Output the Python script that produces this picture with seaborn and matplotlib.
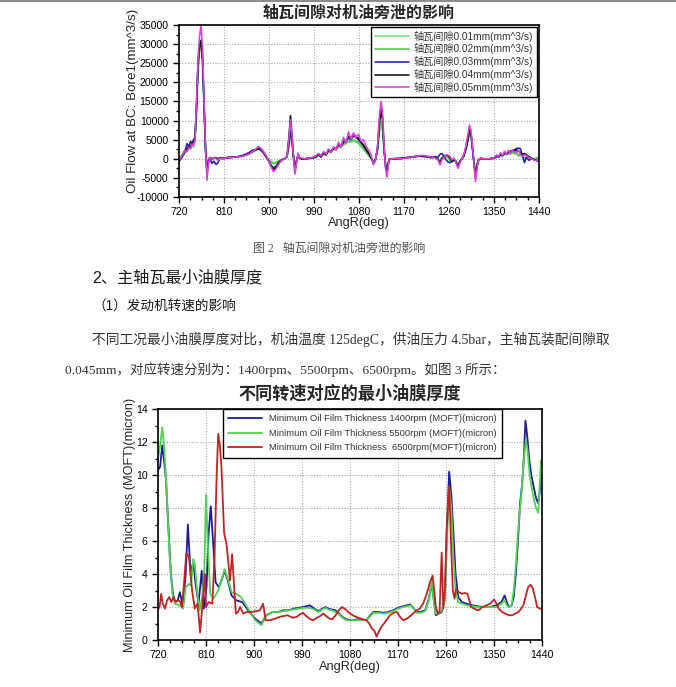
import matplotlib
matplotlib.use("Agg")
import matplotlib.pyplot as plt
from matplotlib.ticker import MultipleLocator
from matplotlib.lines import Line2D
import numpy as np
import seaborn as sns

# ---- figure 2 data: oil flow at BC: Bore1, values in 1000 mm^3/s ----
ang_deg = [720, 724, 728, 732, 736, 740, 743, 746, 749, 752,
           755, 758, 761, 764, 767, 770, 773, 776, 779, 782,
           786, 790, 794, 798, 802, 808, 815, 825, 835, 845,
           855, 862, 868, 874, 879, 884, 889, 894, 899, 904,
           909, 914, 919, 925, 931, 936, 940, 943, 946, 949,
           952, 955, 958, 961, 965, 972, 980, 988, 994, 999,
           1004, 1009, 1014, 1019, 1024, 1029, 1034, 1039, 1044, 1049,
           1054, 1059, 1064, 1069, 1074, 1079, 1084, 1089, 1094, 1099,
           1104, 1109, 1113, 1117, 1121, 1124, 1127, 1130, 1133, 1136,
           1140, 1146, 1155, 1165, 1175, 1185, 1195, 1205, 1215, 1225,
           1232, 1238, 1242, 1246, 1250, 1254, 1258, 1262, 1266, 1270,
           1274, 1278, 1282, 1286, 1290, 1294, 1298, 1301, 1304, 1307,
           1310, 1313, 1316, 1319, 1323, 1330, 1340, 1350, 1355, 1359,
           1363, 1367, 1371, 1375, 1379, 1383, 1387, 1391, 1395, 1399,
           1403, 1407, 1411, 1415, 1420, 1425, 1430, 1435, 1440]

flow_001_k = [-0.4, 0.8, 1.6, 2.4, 2.8, 3.0, 2.5, 3.4, 3.0, 4.6,
              12, 23, 28.5, 29.0, 25.5, 13.5, 2, -2.5, 0.2, 0.4,
              0.2, 0.2, 0.3, 0.1, 0.3, 0.2, 0.3, 0.4, 0.5, 0.6,
              0.9, 1.3, 1.8, 2.2, 2.5, 2.2, 1.5, 0.6, 0.0, -0.6,
              -1.0, -0.9, -0.5, -0.2, 0.0, 0.4, 3.2, 5.6, 4.0, 0.6,
              -2.0, -0.4, 0.6, 0.2, 0.0, 0.0, 0.1, 0.2, 0.4, 0.8,
              0.6, 1.2, 1.0, 1.8, 1.6, 2.4, 2.2, 3.0, 2.9, 3.6,
              3.9, 4.4, 4.3, 4.6, 4.4, 4.0, 3.2, 2.5, 1.6, 0.8,
              0.0, -1.0, -0.3, 2.0, 7.0, 9.0, 7.5, 2.2, -1.0, -2.8,
              -0.2, 0.0, 0.0, 0.1, 0.3, 0.4, 0.6, 0.8, 0.6, 0.3,
              0.2, 0.0, -0.3, 0.2, 0.4, 0.6, 0.3, -0.5, -0.9, -0.6,
              -0.8, -1.6, -0.5, 0.0, 0.8, 2.4, 4.6, 7.0, 6.0, 2.4,
              -0.6, -3.5, -1.5, -0.2, 0.1, 0.0, 0.0, 0.1, 0.5, 0.3,
              0.8, 0.6, 1.2, 1.0, 1.4, 1.2, 1.6, 1.3, 1.2, 0.6,
              1.0, 0.4, -0.2, 0.3, 0.2, 0.1, 0.0, 0.2, 0.4]

flow_002_k = [-0.5, 0.5, 1.4, 2.2, 3.0, 3.4, 3.0, 3.6, 3.8, 4.8,
              13, 23.5, 29, 29.5, 26, 14, 2.5, -3.0, 0.0, 0.3,
              0.1, 0.2, 0.2, 0.0, 0.3, 0.1, 0.3, 0.4, 0.5, 0.7,
              1.0, 1.4, 1.9, 2.3, 2.7, 2.4, 1.6, 0.6, -0.2, -0.9,
              -1.3, -1.1, -0.6, -0.2, 0.0, 0.5, 3.5, 6.0, 4.4, 0.6,
              -2.3, -0.4, 0.7, 0.2, 0.0, 0.0, 0.1, 0.2, 0.5, 1.0,
              0.7, 1.3, 1.1, 2.0, 1.8, 2.6, 2.4, 3.3, 3.1, 3.9,
              4.2, 4.7, 4.6, 5.0, 4.7, 4.3, 3.5, 2.8, 1.8, 1.0,
              0.1, -1.1, -0.3, 2.2, 7.8, 9.8, 8.2, 2.5, -1.2, -3.0,
              -0.2, 0.0, 0.0, 0.1, 0.3, 0.4, 0.6, 0.8, 0.6, 0.3,
              0.3, 0.0, -0.4, 0.2, 0.5, 0.7, 0.4, -0.4, -0.8, -0.5,
              -0.7, -1.8, -0.6, 0.0, 0.9, 2.6, 5.0, 7.4, 6.2, 2.6,
              -0.8, -3.8, -1.6, -0.3, 0.1, 0.0, 0.0, 0.1, 0.6, 0.4,
              1.0, 0.7, 1.3, 1.1, 1.5, 1.4, 1.8, 1.5, 1.6, 1.0,
              1.2, 0.6, 0.2, 0.4, 0.2, 0.1, -0.1, 0.1, 0.3]

flow_003_k = [-0.6, 0.0, 0.8, 1.8, 4.0, 3.2, 4.6, 3.8, 5.0, 5.6,
              13, 24, 29.5, 30.0, 26, 14, 2.5, -3.5, -0.5, 0.2,
              -1.2, -0.6, -1.5, -1.0, 0.2, 0.0, 0.2, 0.3, 0.5, 0.8,
              1.3, 1.8, 2.3, 2.4, 2.6, 2.3, 1.5, 0.5, -0.5, -1.6,
              -2.4, -1.9, -1.0, -0.3, 0.0, 0.5, 4.0, 7.2, 5.0, 0.8,
              -2.5, -0.5, 0.8, 0.3, 0.0, 0.0, 0.2, 0.3, 0.6, 1.3,
              0.8, 1.6, 1.3, 2.4, 2.0, 2.9, 2.6, 3.6, 3.3, 4.3,
              4.6, 5.4, 5.0, 6.0, 5.5, 5.0, 4.2, 3.4, 2.3, 1.4,
              0.3, -1.0, -0.2, 2.8, 10.5, 13.0, 11.0, 3.2, -1.5, -3.2,
              -0.2, 0.0, 0.0, 0.1, 0.3, 0.5, 0.7, 0.6, 0.5, 0.3,
              0.6, 0.4, 1.2, 1.4, 0.6, -0.2, -0.8, -1.0, -0.6, -0.3,
              -0.6, -2.0, -0.6, 0.0, 0.8, 2.6, 5.0, 7.2, 6.3, 2.8,
              -1.0, -4.5, -1.8, -0.3, 0.1, 0.0, 0.0, 0.1, 0.6, 0.4,
              1.0, 0.8, 1.4, 1.2, 1.6, 1.9, 2.2, 2.4, 2.7, 2.8,
              2.6, 0.8, -1.0, 0.4, -0.4, 0.0, -0.2, -0.4, -0.5]

flow_004_k = [-0.7, 0.2, 1.0, 2.0, 2.4, 3.2, 3.0, 4.2, 4.4, 5.4,
              14, 25, 30, 31.0, 27, 15, 3, -3.8, -1.0, 0.2,
              0.0, 0.2, 0.3, -0.2, 0.3, 0.1, 0.3, 0.5, 0.5, 0.7,
              1.1, 1.5, 2.0, 2.4, 2.9, 2.6, 1.8, 0.7, -0.5, -1.8,
              -2.8, -2.2, -1.2, -0.3, 0.0, 0.6, 6.0, 11.3, 6.0, 0.2,
              -3.5, -0.8, 1.0, 0.2, 0.0, 0.0, 0.1, 0.3, 0.5, 1.2,
              0.4, 1.5, 1.0, 2.2, 1.8, 2.8, 2.6, 3.8, 3.4, 4.6,
              4.8, 5.8, 5.4, 6.4, 5.9, 5.4, 4.4, 3.6, 2.6, 1.6,
              0.4, -1.2, -0.2, 2.5, 9.5, 12.0, 10.5, 3.0, -2.0, -3.5,
              -0.2, 0.0, 0.1, 0.1, 0.3, 0.4, 0.6, 0.8, 0.6, 0.4,
              0.4, -0.2, -1.0, 0.2, 0.6, 1.0, 0.8, 0.2, -0.6, -0.2,
              -0.8, -2.2, -0.8, 0.1, 1.0, 3.0, 5.5, 8.0, 6.8, 3.0,
              -1.2, -5.0, -2.0, -0.4, 0.1, 0.0, 0.0, 0.2, 0.8, 0.6,
              1.2, 1.0, 1.6, 1.4, 1.8, 2.0, 2.2, 2.0, 2.4, 2.0,
              1.6, 1.2, 1.4, 1.0, 0.6, 0.2, -0.2, -0.4, -0.7]

flow_005_k = [-0.6, 0.3, 1.2, 2.2, 1.8, 3.0, 2.6, 3.9, 3.4, 5.0,
              15, 26, 32, 34.8, 29, 16, 3, -5.6, -1.0, 0.4,
              -0.2, 0.3, 0.1, -0.4, 0.2, 0.0, 0.3, 0.4, 0.5, 0.6,
              1.0, 1.4, 2.0, 2.6, 3.2, 2.7, 1.9, 0.8, -0.6, -2.0,
              -3.4, -2.6, -1.5, -0.4, 0.0, 0.5, 5.5, 10.2, 6.5, 0.5,
              -4.0, -1.0, 1.5, 0.3, 0.2, 0.0, 0.2, 0.4, 0.8, 1.4,
              0.7, 1.9, 1.2, 2.6, 1.6, 3.2, 2.4, 4.3, 3.0, 5.6,
              4.2, 7.0, 5.2, 6.8, 5.5, 6.4, 4.6, 5.0, 3.2, 2.4,
              1.0, -1.5, -0.5, 3.0, 11.5, 15.0, 12.5, 4.0, -2.5, -4.8,
              -0.3, 0.0, 0.1, 0.0, 0.2, 0.4, 0.6, 0.9, 0.7, 0.5,
              0.3, -0.3, -1.6, -0.2, 0.4, 0.9, 1.0, 0.6, -0.3, 0.2,
              -1.0, -2.5, -1.0, 0.0, 1.2, 3.5, 6.5, 8.8, 7.5, 3.5,
              -1.5, -6.0, -2.5, -0.5, 0.2, 0.0, 0.0, 0.2, 1.0, 0.5,
              1.6, 0.8, 2.0, 1.2, 2.2, 1.4, 2.4, 1.6, 1.8, 2.2,
              1.2, 0.6, 1.0, 0.8, 0.3, 0.0, -0.3, -0.5, -0.6]

flow_labels = ["轴瓦间隙0.01mm(mm^3/s)", "轴瓦间隙0.02mm(mm^3/s)", "轴瓦间隙0.03mm(mm^3/s)",
               "轴瓦间隙0.04mm(mm^3/s)", "轴瓦间隙0.05mm(mm^3/s)"]
flow_colors = ["#7fd87f", "#4ccc4c", "#2222aa", "#111111", "#dd3fd8"]

# ---- figure 3 data: minimum oil film thickness (angle, micron) ----
moft_1400 = [(720, 10.3), (724, 10.5), (728, 11.8), (731, 11.0), (735, 9.7), (740, 6.5), (744, 4.1),
             (748, 2.8), (752, 2.3), (757, 2.4), (761, 2.9), (767, 2.0), (772, 4.1), (776, 7.0),
             (781, 4.1), (786, 4.7), (791, 3.3), (796, 2.2), (802, 4.2), (806, 1.9), (811, 3.2),
             (815, 6.5), (819, 8.1), (823, 6.1), (828, 3.5), (834, 3.2), (839, 3.6), (845, 4.2),
             (851, 3.6), (858, 2.7), (867, 2.4), (878, 2.3), (889, 1.8), (902, 1.3), (914, 1.0),
             (923, 1.5), (935, 1.7), (945, 1.7), (955, 1.8), (965, 1.8), (974, 1.9), (984, 1.95),
             (992, 2.0), (1005, 2.1), (1013, 1.9), (1021, 1.75), (1028, 1.9), (1034, 2.0), (1040, 1.9),
             (1046, 1.85), (1053, 1.8), (1061, 1.55), (1068, 1.35), (1074, 1.25), (1083, 1.2),
             (1093, 1.25), (1103, 1.25), (1111, 1.2), (1118, 1.5), (1124, 1.7), (1133, 1.7),
             (1143, 1.65), (1152, 1.7), (1161, 1.8), (1170, 1.95), (1180, 2.05), (1193, 2.15),
             (1200, 1.9), (1205, 1.7), (1213, 1.7), (1221, 1.8), (1228, 2.5), (1233, 3.4), (1237, 2.5),
             (1241, 1.5), (1247, 1.6), (1252, 1.7), (1258, 2.5), (1262, 7.0), (1266, 10.2), (1270, 8.8),
             (1274, 6.5), (1278, 4.0), (1283, 2.6), (1290, 2.3), (1299, 2.2), (1310, 2.1), (1318, 2.05),
             (1330, 2.0), (1342, 2.0), (1355, 2.1), (1364, 2.3), (1370, 2.7), (1374, 2.3), (1378, 2.0),
             (1383, 2.1), (1387, 2.6), (1391, 4.0), (1395, 6.0), (1399, 8.3), (1403, 9.5), (1406, 11.0),
             (1409, 13.3), (1412, 12.5), (1416, 11.0), (1420, 10.0), (1425, 9.2), (1429, 8.6),
             (1433, 8.3), (1436, 9.0), (1438, 10.0), (1440, 9.4)]

moft_5500 = [(720, 11.0), (724, 11.8), (728, 12.9), (732, 11.5), (737, 8.5), (742, 5.0), (747, 2.8),
             (752, 2.2), (760, 2.1), (767, 1.9), (772, 3.2), (778, 3.4), (782, 3.3), (786, 4.9),
             (789, 4.6), (794, 2.8), (798, 1.8), (803, 2.6), (807, 4.4), (810, 8.8), (814, 5.4),
             (818, 2.8), (824, 2.5), (833, 3.0), (845, 4.3), (852, 3.6), (858, 2.9), (867, 2.8),
             (876, 2.6), (889, 1.9), (902, 1.2), (914, 0.9), (923, 1.5), (935, 1.7), (945, 1.7),
             (955, 1.75), (965, 1.8), (974, 1.85), (984, 1.9), (992, 1.95), (1005, 1.95), (1013, 1.85),
             (1021, 1.7), (1028, 1.85), (1034, 1.95), (1040, 1.85), (1046, 1.8), (1053, 1.7),
             (1061, 1.5), (1068, 1.3), (1074, 1.2), (1083, 1.2), (1093, 1.2), (1103, 1.2), (1111, 1.2),
             (1118, 1.45), (1124, 1.65), (1133, 1.65), (1143, 1.6), (1152, 1.65), (1161, 1.75),
             (1170, 1.9), (1180, 2.0), (1193, 2.1), (1200, 1.9), (1205, 1.65), (1213, 1.65),
             (1221, 1.75), (1228, 2.4), (1233, 3.6), (1237, 2.4), (1241, 1.6), (1247, 1.6), (1252, 1.8),
             (1258, 2.4), (1262, 6.0), (1266, 9.3), (1270, 8.0), (1274, 5.0), (1278, 3.0), (1283, 2.3),
             (1290, 2.2), (1299, 2.1), (1310, 2.05), (1318, 2.0), (1330, 2.0), (1342, 2.0), (1355, 2.0),
             (1364, 2.2), (1370, 2.4), (1374, 2.1), (1378, 2.0), (1383, 2.1), (1387, 3.0), (1391, 4.5),
             (1395, 6.5), (1399, 8.0), (1403, 9.5), (1406, 11.0), (1410, 12.1), (1413, 11.5),
             (1417, 10.0), (1421, 9.2), (1425, 8.5), (1429, 8.0), (1433, 7.7), (1436, 9.5),
             (1438, 10.9), (1440, 10.5)]

moft_6500 = [(720, 1.85), (723, 2.0), (726, 2.8), (729, 2.2), (733, 1.9), (737, 2.4), (741, 2.6),
             (745, 2.3), (749, 2.6), (753, 2.3), (757, 2.4), (761, 2.35), (765, 2.0), (769, 3.5),
             (773, 5.25), (778, 5.05), (781, 4.0), (784, 3.0), (789, 1.9), (794, 2.2), (797, 1.2),
             (799, 0.45), (802, 1.6), (806, 3.2), (808, 4.0), (810, 2.0), (815, 2.3), (822, 2.2),
             (826, 5.0), (830, 10.0), (833, 12.5), (836, 11.8), (839, 10.5), (844, 6.5), (849, 5.7),
             (855, 3.6), (859, 5.2), (863, 3.2), (866, 1.6), (870, 1.7), (874, 2.0), (880, 1.6),
             (886, 1.7), (893, 1.7), (905, 1.75), (911, 1.8), (917, 2.2), (922, 1.2), (930, 1.2),
             (940, 1.3), (948, 1.4), (955, 1.45), (963, 1.5), (972, 1.35), (980, 1.4), (986, 1.55),
             (992, 1.65), (1000, 1.4), (1006, 1.25), (1011, 1.2), (1018, 1.35), (1024, 1.45),
             (1030, 1.6), (1037, 1.4), (1042, 1.3), (1046, 1.25), (1052, 1.45), (1058, 1.75),
             (1065, 2.0), (1072, 1.85), (1080, 1.6), (1088, 1.45), (1096, 1.35), (1104, 1.25),
             (1111, 1.2), (1116, 1.0), (1121, 0.7), (1126, 0.55), (1130, 0.2), (1134, 0.5), (1139, 0.8),
             (1146, 1.1), (1155, 1.5), (1162, 1.65), (1168, 1.7), (1174, 1.4), (1180, 1.2), (1187, 1.3),
             (1193, 1.45), (1200, 1.65), (1205, 1.8), (1211, 1.9), (1217, 2.2), (1224, 2.8), (1230, 3.5),
             (1235, 3.9), (1238, 3.0), (1241, 2.0), (1245, 1.6), (1248, 1.7), (1252, 5.3), (1255, 1.9),
             (1258, 3.0), (1261, 6.5), (1266, 9.3), (1270, 5.4), (1273, 3.0), (1276, 2.5), (1279, 3.1),
             (1284, 2.9), (1290, 2.8), (1295, 2.85), (1300, 2.8), (1304, 2.4), (1307, 2.0), (1313, 1.9),
             (1319, 1.8), (1323, 1.85), (1328, 2.0), (1336, 2.1), (1343, 2.2), (1350, 2.45), (1355, 2.2),
             (1359, 1.9), (1365, 1.7), (1371, 1.6), (1378, 1.5), (1384, 1.5), (1390, 1.6), (1396, 1.7),
             (1401, 1.9), (1405, 2.1), (1409, 2.6), (1414, 3.2), (1419, 3.35), (1423, 3.1), (1427, 2.6),
             (1431, 2.0), (1436, 1.9), (1440, 1.9)]

moft_labels = ["Minimum Oil Film Thickness 1400rpm (MOFT)(micron)",
               "Minimum Oil Film Thickness 5500rpm (MOFT)(micron)",
               "Minimum Oil Film Thickness  6500rpm(MOFT)(micron)"]
moft_colors = ["#1c1c9c", "#4fd24f", "#c42222"]

sns.set_style("white")
plt.rcParams["font.family"] = ["Liberation Sans", "Noto Sans CJK SC"]
plt.rcParams["axes.unicode_minus"] = False

SANS = ["Liberation Sans", "Noto Sans CJK SC"]
SERIF = ["Liberation Serif", "Noto Sans CJK SC"]
CJK = ["Noto Sans CJK SC", "DejaVu Sans"]


def style_axes(ax):
    for sp in ax.spines.values():
        sp.set_color("black")
        sp.set_linewidth(1.2)
        sp.set_visible(True)
    ax.set_axisbelow(True)
    ax.grid(True, which="major", ls=(0, (1, 1.5)), color="#aaaaaa", lw=0.8)
    ax.tick_params(which="both", direction="out", bottom=True, left=True, top=False, right=False,
                   width=1.0, labelsize=7.6, colors="black")
    ax.tick_params(which="major", length=4)
    ax.tick_params(which="minor", length=2.5)


fig = plt.figure(figsize=(6.76, 6.87), dpi=100)
fig.add_artist(Line2D([0, 1], [0.9985, 0.9985], color="#777777", lw=1.2))

# ---------------- top chart ----------------
ax1 = fig.add_axes([0.2648, 0.7132, 0.5325, 0.2504])
x_top = np.array(ang_deg)
for vals, lab, col in zip([flow_001_k, flow_002_k, flow_003_k, flow_004_k, flow_005_k],
                          flow_labels, flow_colors):
    sns.lineplot(x=x_top, y=np.array(vals) * 1000, ax=ax1, color=col, lw=1.15,
                 label=lab, estimator=None, sort=False)
ax1.set_xlim(720, 1440)
ax1.set_ylim(-10000, 35000)
ax1.xaxis.set_major_locator(MultipleLocator(90))
ax1.xaxis.set_minor_locator(MultipleLocator(22.5))
ax1.yaxis.set_major_locator(MultipleLocator(5000))
ax1.yaxis.set_minor_locator(MultipleLocator(2500))
style_axes(ax1)
ax1.set_xlabel("AngR(deg)", fontsize=9.2)
ax1.set_ylabel("Oil Flow at BC: Bore1(mm^3/s)", fontsize=9.6)
ax1.xaxis.set_label_coords(0.5, -0.118)
ax1.yaxis.set_label_coords(-0.11, 0.56)
leg1 = ax1.legend(loc="upper right", fontsize=7.3, frameon=True, fancybox=False, framealpha=1,
                  edgecolor="black", borderaxespad=0.15, handlelength=3.3, handletextpad=0.5,
                  labelspacing=0.18, borderpad=0.4)
leg1.get_frame().set_linewidth(1.0)
for t in leg1.get_texts():
    t.set_color("#333333")

fig.text(0.531, 0.981, "轴瓦间隙对机油旁泄的影响", ha="center", va="center",
         fontsize=11.5, fontweight="bold", family=CJK)

# ---------------- document text ----------------
fig.text(0.374, 1 - 249 / 687, "图 2   轴瓦间隙对机油旁泄的影响", ha="left", va="center",
         fontsize=8.6, color="#555555", family=SERIF)
fig.text(92 / 676, 1 - 278 / 687, "2、主轴瓦最小油膜厚度", ha="left", va="center",
         fontsize=11.6, color="#1a1a1a", family=SANS)
fig.text(92 / 676, 1 - 306 / 687, "（1）发动机转速的影响", ha="left", va="center",
         fontsize=9.8, color="#1a1a1a", family=SANS)
fig.text(92 / 676, 1 - 339 / 687,
         "不同工况最小油膜厚度对比，机油温度 125degC，供油压力 4.5bar，主轴瓦装配间隙取",
         ha="left", va="center", fontsize=9.9, color="#333333", family=SERIF)
fig.text(65 / 676, 1 - 370 / 687,
         "0.045mm，对应转速分别为：1400rpm、5500rpm、6500rpm。如图 3 所示：",
         ha="left", va="center", fontsize=9.7, color="#333333", family=SERIF)

# ---------------- bottom chart ----------------
ax2 = fig.add_axes([0.2337, 0.0684, 0.568, 0.3362])
for pairs, lab, col in zip([moft_1400, moft_5500, moft_6500], moft_labels, moft_colors):
    xs = [p[0] for p in pairs]
    ys = [p[1] for p in pairs]
    sns.lineplot(x=xs, y=ys, ax=ax2, color=col, lw=1.3, label=lab, estimator=None, sort=False)
ax2.set_xlim(720, 1440)
ax2.set_ylim(0, 14)
ax2.xaxis.set_major_locator(MultipleLocator(90))
ax2.xaxis.set_minor_locator(MultipleLocator(22.5))
ax2.yaxis.set_major_locator(MultipleLocator(2))
ax2.yaxis.set_minor_locator(MultipleLocator(1))
style_axes(ax2)
ax2.set_xlabel("AngR(deg)", fontsize=9.2)
ax2.set_ylabel("Minimum Oil Film Thickness (MOFT)(micron)", fontsize=9.2)
ax2.xaxis.set_label_coords(0.5, -0.09)
ax2.yaxis.set_label_coords(-0.058, 0.5)
leg2 = ax2.legend(loc="upper left", bbox_to_anchor=(0.169, 1.0), fontsize=6.75, frameon=True,
                  fancybox=False, framealpha=1, edgecolor="black", borderaxespad=0.0,
                  handlelength=3.6, handletextpad=0.8, labelspacing=0.6, borderpad=0.55)
leg2.get_frame().set_linewidth(1.0)
for t in leg2.get_texts():
    t.set_color("#333333")

fig.text(0.518, 1 - 394 / 687, "不同转速对应的最小油膜厚度", ha="center", va="center",
         fontsize=12.3, fontweight="bold", family=CJK)

fig.savefig("out.png", dpi=100, facecolor="white")
